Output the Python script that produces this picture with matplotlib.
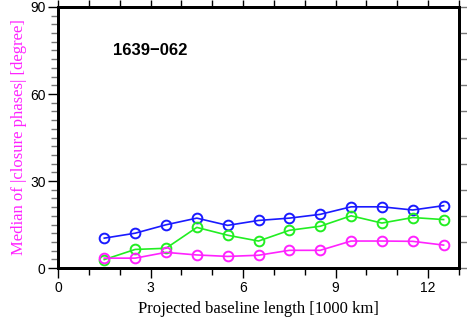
import numpy as np
import matplotlib
matplotlib.use("Agg")
import matplotlib.pyplot as plt
from matplotlib.ticker import MultipleLocator

# baseline bins [1000 km]
baseline = [1.5, 2.5, 3.5, 4.5, 5.5, 6.5, 7.5, 8.5, 9.5, 10.5, 11.5, 12.5]

# median |closure phase| [degree]
blue_vals = [10.3, 12.0, 14.9, 17.2, 14.7, 16.4, 17.2, 18.5, 21.1, 21.1, 20.0, 21.5]
green_vals = [2.9, 6.4, 6.8, 14.0, 11.3, 9.3, 13.0, 14.4, 18.0, 15.5, 17.4, 16.7]
magenta_vals = [3.4, 3.4, 5.4, 4.5, 4.0, 4.4, 6.1, 6.1, 9.3, 9.3, 9.2, 7.9]

source_name = "1639\u2212062"
xlabel = "Projected baseline length [1000 km]"
ylabel = "Median of |closure phases| [degree]"

fig = plt.figure(figsize=(4.67, 3.18), dpi=100)
ax = fig.add_axes([0.1242, 0.1572, 0.8587, 0.8208])

series = [
    (blue_vals, "#1a1aff"),
    (green_vals, "#22ee22"),
    (magenta_vals, "#ff22ff"),
]
for vals, col in series:
    ax.plot(baseline, vals, color=col, lw=1.2, marker="o", ms=7,
            mfc="none", mec=col, mew=1.4, clip_on=False)

ax.set_xlim(0, 13)
ax.set_ylim(0, 90)

ax.xaxis.set_major_locator(MultipleLocator(3))
ax.xaxis.set_minor_locator(MultipleLocator(1))
ax.yaxis.set_major_locator(MultipleLocator(30))
ax.yaxis.set_minor_locator(MultipleLocator(3))

ax.tick_params(axis="both", which="major", direction="out", length=7,
               width=1.0, labelsize=10, top=False, right=False)
ax.tick_params(axis="x", which="major", pad=2.5)
ax.tick_params(axis="x", which="minor", direction="out", length=5,
               width=1.0, top=False)
ax.tick_params(axis="y", which="minor", direction="out", length=5,
               width=1.0, color="#777777", right=False)
ax.tick_params(axis="y", which="major", pad=2)

for s in ax.spines.values():
    s.set_linewidth(2.0)

# top ticks every 1 unit
axt = ax.twiny()
axt.set_xlim(ax.get_xlim())
axt.xaxis.set_major_locator(MultipleLocator(1))
axt.tick_params(axis="x", direction="out", length=5, width=1.0,
                labeltop=False)

# right ticks every 9 degrees
axr = ax.twinx()
axr.set_ylim(ax.get_ylim())
axr.yaxis.set_major_locator(MultipleLocator(9))
axr.tick_params(axis="y", direction="out", length=7, width=1.0,
                color="#777777", labelright=False)
for a in (axt, axr):
    for s in a.spines.values():
        s.set_linewidth(2.0)

ax.text(3.0, 75, source_name, ha="center", va="center",
        fontsize=12, fontweight="bold", family="Liberation Sans")

ax.set_xlabel(xlabel, family="Liberation Serif", fontsize=12, labelpad=4)
ax.set_ylabel(ylabel, family="Liberation Serif", fontsize=12,
              color="#ff22ff", labelpad=2)

for lab in ax.get_xticklabels() + ax.get_yticklabels():
    lab.set_family("Liberation Sans")

fig.savefig("out.png", dpi=100)
